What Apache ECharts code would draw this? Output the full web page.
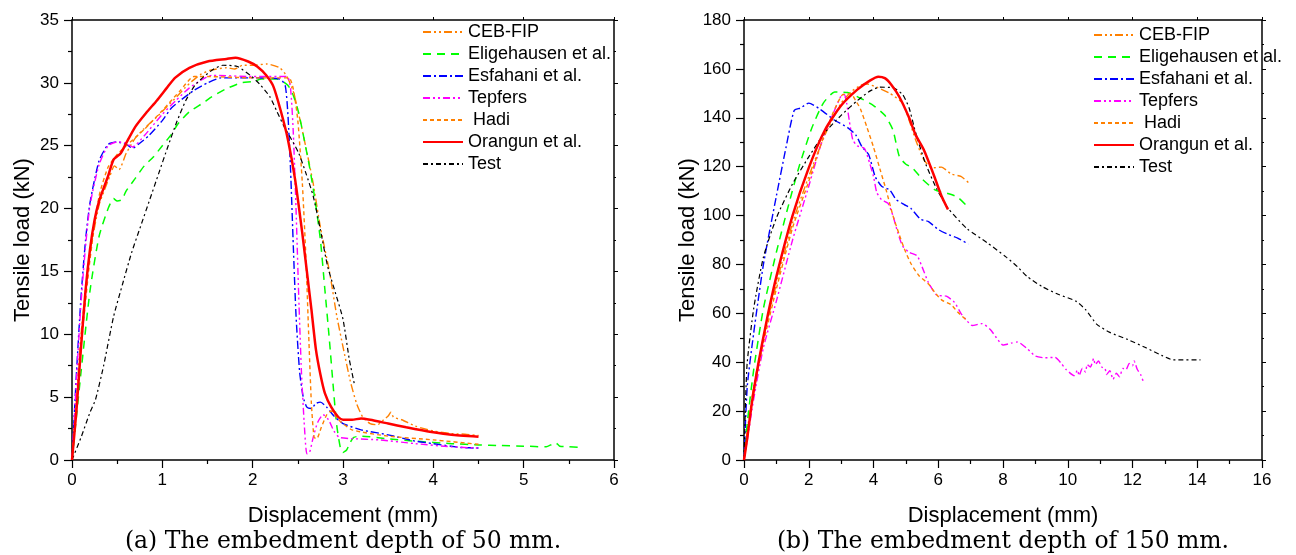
<!DOCTYPE html>
<html>
<head>
<meta charset="utf-8">
<script src="https://cdn.jsdelivr.net/npm/echarts@6/dist/echarts.min.js"></script>
<style>html,body{margin:0;padding:0;background:#fff;}#c{width:1296px;height:555px;}</style>
</head>
<body>
<div id="c"></div>
<script>
// ---------- names ----------
const seriesNames = ['CEB-FIP', 'Eligehausen et al.', 'Esfahani et al.', 'Tepfers', ' Hadi', 'Orangun et al.', 'Test'];
const xTicksA = [0, 6, 1];     // min, max, interval (embedment 50 mm)
const yTicksA = [0, 35, 5];
const xTicksB = [0, 16, 2];    // embedment 150 mm
const yTicksB = [0, 180, 20];
const xAxisName = 'Displacement (mm)';
const yAxisName = 'Tensile load (kN)';
const captionA = '(a) The embedment depth of 50 mm.';
const captionB = '(b) The embedment depth of 150 mm.';

// ---------- (a) 50 mm data [displacement, load] ----------
const aCEB = [[0,0],[0.05,5],[0.1,10],[0.2,16.5],[0.3,20.3],[0.35,21.3],[0.42,22.6],[0.47,23.4],[0.52,23.1],[0.6,24.4],[0.7,25.6],[0.79,26.3],[0.94,27.3],[1.05,28.1],[1.16,28.9],[1.25,29.6],[1.34,30.2],[1.43,30.7],[1.53,31.0],[1.71,31.2],[1.8,31.1],[1.89,31.4],[2.0,31.4],[2.16,31.5],[2.3,31.2],[2.38,30.5],[2.45,29.3],[2.52,27.2],[2.6,24.5],[2.67,22.0],[2.75,18.5],[2.85,15.0],[2.93,11.5],[3.0,9.0],[3.08,6.3],[3.15,4.5],[3.22,3.4],[3.3,2.9],[3.38,2.8],[3.45,3.2],[3.5,3.5],[3.53,3.8],[3.56,3.4],[3.65,3.2],[3.8,2.7],[4.0,2.3],[4.2,2.1],[4.35,2.05],[4.5,1.95]];
const aEli = [[0,0],[0.05,3.5],[0.1,7],[0.2,13.5],[0.3,17.8],[0.4,20.0],[0.46,20.8],[0.5,20.6],[0.55,20.7],[0.6,21.4],[0.7,22.4],[0.8,23.4],[0.9,24.1],[1.0,25.0],[1.1,25.9],[1.18,26.8],[1.3,27.7],[1.45,28.4],[1.55,28.9],[1.7,29.5],[1.87,30.0],[2.0,30.1],[2.1,30.3],[2.27,30.3],[2.39,29.8],[2.45,29.0],[2.51,27.6],[2.57,25.5],[2.63,23.3],[2.69,20.7],[2.75,17.5],[2.8,13.5],[2.85,9.5],[2.89,6.0],[2.93,2.8],[2.97,1.0],[3.0,0.6],[3.04,0.8],[3.08,1.4],[3.12,1.8],[3.2,1.9],[3.48,1.7],[3.8,1.5],[4.2,1.3],[4.5,1.2],[4.75,1.15],[5.0,1.1],[5.25,1.05],[5.3,1.2],[5.35,1.4],[5.4,1.1],[5.5,1.05],[5.61,1.0]];
const aEsf = [[0,0],[0.05,7],[0.1,13],[0.15,17.5],[0.2,20.5],[0.3,23.8],[0.4,25.1],[0.5,25.3],[0.6,25.1],[0.67,24.8],[0.75,25.2],[0.85,25.8],[1.0,27.0],[1.1,28.0],[1.2,28.6],[1.35,29.4],[1.5,30.0],[1.65,30.4],[2.0,30.4],[2.3,30.3],[2.36,29.8],[2.39,27.5],[2.42,23.0],[2.45,17.0],[2.48,11.5],[2.52,7.0],[2.56,5.0],[2.6,4.2],[2.65,4.1],[2.7,4.5],[2.75,4.6],[2.82,4.2],[2.9,3.5],[3.0,2.9],[3.2,2.4],[3.5,2.0],[3.8,1.5],[4.0,1.3],[4.3,1.0],[4.5,0.95]];
const aTep = [[0,0],[0.05,6.5],[0.1,12.5],[0.15,17],[0.2,20.3],[0.3,23.5],[0.4,25.0],[0.5,25.3],[0.6,25.2],[0.67,24.9],[0.8,25.8],[1.0,27.5],[1.15,28.6],[1.3,29.6],[1.45,30.3],[1.55,30.6],[2.0,30.5],[2.38,30.5],[2.42,29.5],[2.45,26.0],[2.48,20.0],[2.51,13.0],[2.54,7.0],[2.57,3.0],[2.6,0.5],[2.63,0.6],[2.67,1.8],[2.72,3.0],[2.78,3.6],[2.84,3.2],[2.9,2.3],[2.96,1.8],[3.1,1.7],[3.4,1.6],[3.8,1.3],[4.2,1.05],[4.5,0.95]];
const aHadi = [[0,0],[0.05,4.5],[0.1,9],[0.2,16],[0.3,21],[0.4,23.3],[0.5,24.3],[0.6,25.0],[0.8,26.3],[1.0,27.8],[1.2,29.4],[1.35,30.5],[1.5,30.5],[2.0,30.4],[2.4,30.4],[2.45,29.5],[2.5,27.0],[2.55,22.0],[2.59,16.0],[2.62,10.0],[2.65,4.5],[2.68,1.8],[2.71,1.7],[2.76,2.6],[2.82,3.6],[2.87,3.9],[2.95,3.2],[3.1,2.4],[3.5,1.9],[4.0,1.6],[4.5,1.25]];
const aOra = [[0,0],[0.05,4],[0.1,9],[0.15,13.5],[0.2,16.8],[0.25,19.1],[0.3,20.6],[0.4,22.6],[0.46,23.9],[0.54,24.4],[0.6,25.2],[0.7,26.5],[0.82,27.6],[0.94,28.6],[1.05,29.6],[1.14,30.4],[1.3,31.2],[1.5,31.7],[1.71,31.9],[1.81,32.0],[1.95,31.7],[2.05,31.3],[2.15,30.6],[2.23,29.7],[2.31,27.8],[2.39,25.5],[2.47,22.3],[2.55,18.0],[2.6,15.0],[2.65,12.0],[2.7,8.8],[2.75,6.8],[2.8,5.3],[2.87,4.2],[2.95,3.4],[3.0,3.2],[3.1,3.2],[3.2,3.3],[3.3,3.2],[3.5,2.9],[3.7,2.6],[4.0,2.2],[4.2,2.0],[4.5,1.85]];
const aTest = [[0,0],[0.1,1.8],[0.2,3.8],[0.26,4.8],[0.35,7.5],[0.46,11.4],[0.56,14.0],[0.66,16.5],[0.76,18.6],[0.86,20.7],[0.96,22.8],[1.06,24.9],[1.16,26.9],[1.26,28.6],[1.36,29.8],[1.46,30.5],[1.57,31.1],[1.67,31.4],[1.83,31.3],[1.99,30.5],[2.09,29.8],[2.19,28.9],[2.27,27.7],[2.35,26.5],[2.43,25.5],[2.51,24.4],[2.59,22.8],[2.67,21.0],[2.75,18.3],[2.83,15.4],[2.92,13.2],[3.0,11.2],[3.07,8.0],[3.13,5.9]];

// ---------- (b) 150 mm data [displacement, load] ----------
const bCEB = [[0,0],[0.1,12],[0.3,30],[0.6,50],[1.0,72],[1.5,97],[2.0,116],[2.5,133],[3.0,146],[3.3,150.5],[3.6,153.3],[3.8,153.8],[4.1,152.5],[4.5,150],[4.9,146],[5.1,139],[5.3,131],[5.55,123],[5.8,119.5],[6.1,119.8],[6.4,117],[6.7,116],[6.95,113.3]];
const bEli = [[0,0],[0.1,15],[0.3,37],[0.6,62],[1.0,85],[1.35,103],[1.7,120],[2.1,136],[2.45,146],[2.8,150.5],[3.2,150.3],[3.6,148],[4.0,145],[4.35,141],[4.6,135],[4.8,124],[5.0,121],[5.2,119.5],[5.5,115],[5.9,110.5],[6.3,109],[6.6,107.5],[6.95,103]];
const bEsf = [[0,0],[0.1,30],[0.3,52],[0.6,80],[1.0,108],[1.3,128],[1.55,143],[1.75,144],[2.0,146],[2.35,143.5],[2.8,139],[3.2,136],[3.45,133],[3.65,128],[3.85,125],[4.05,116],[4.25,112],[4.5,110.5],[4.7,106.5],[4.95,104.5],[5.15,103],[5.45,98.5],[5.7,97.5],[6.0,94.3],[6.3,92.3],[6.6,90.8],[6.93,88.3]];
const bTep = [[0,0],[0.1,8],[0.3,25],[0.6,46],[1.0,65],[1.5,90],[2.0,112],[2.4,130],[2.7,140],[3.0,149],[3.1,149.5],[3.17,146],[3.25,139],[3.36,131],[3.5,128.5],[3.72,127.5],[3.88,121.5],[4.0,116],[4.1,109.5],[4.25,106.5],[4.45,105],[4.6,100],[4.75,93],[4.9,87.5],[5.1,85],[5.35,83.5],[5.5,79],[5.7,72.5],[5.95,67.5],[6.25,67],[6.5,64.5],[6.7,60],[6.85,57.5],[7.05,55],[7.35,55.8],[7.6,53.5],[7.8,50],[8.0,47],[8.25,47.8],[8.45,48.3],[8.75,45.5],[9.0,42.5],[9.3,41.8],[9.6,42],[9.8,39.5],[9.95,37],[10.2,34.5],[10.3,36.8],[10.35,34.5],[10.45,37.5],[10.55,36],[10.6,39],[10.7,38],[10.8,41.5],[10.85,39],[10.95,40.5],[11.05,38],[11.15,37.5],[11.2,35],[11.3,36.5],[11.4,33],[11.5,35.5],[11.6,34],[11.7,37.5],[11.8,37],[11.9,39.5],[12.0,38.5],[12.05,40.5],[12.15,37],[12.25,35],[12.35,31.5]];
const bHadi = [[0,0],[0.1,10],[0.3,28],[0.6,48],[1.0,70],[1.5,95],[2.0,114],[2.4,130],[2.75,142],[3.05,149.5],[3.3,149.8],[3.45,147],[3.6,143.5],[3.8,136],[4.0,128],[4.2,119],[4.4,110],[4.6,100],[4.8,92],[4.95,86.5],[5.15,80.5],[5.4,75.5],[5.7,72],[5.9,68.5],[6.1,65.5],[6.4,63.5],[6.6,60.5],[6.85,57.5]];
const bOra = [[0,0],[0.1,9],[0.25,24],[0.45,40],[0.7,57],[1.0,75],[1.5,100],[2.0,119.5],[2.5,135],[3.0,145],[3.5,151.5],[3.9,155.3],[4.15,156.8],[4.35,156.2],[4.55,153.5],[4.8,148.5],[5.1,140],[5.3,133],[5.55,127],[5.85,117],[6.1,108],[6.3,102.5]];
const bTest = [[0,0],[0.05,25],[0.1,40],[0.3,62],[0.6,83],[1.0,99],[1.5,113],[2.0,124],[2.5,134],[3.0,141],[3.5,147],[3.9,151],[4.2,152.5],[4.6,152.3],[4.9,149.5],[5.1,144],[5.3,134],[5.6,121.5],[5.95,111],[6.3,103],[6.9,94.5],[7.5,89],[8.1,83],[8.45,79],[8.75,75],[9.2,71],[9.7,67.8],[10.25,65],[10.55,61.5],[10.9,55.5],[11.3,52.2],[11.85,49.3],[12.4,46],[12.9,42.8],[13.25,41],[14.1,41]];

// ---------- styles ----------
const styles = [
  {color:'#FF8000', width:1.4, type:[8,3,2,3,2,3]},
  {color:'#00FF00', width:1.5, type:[8,6]},
  {color:'#0000FF', width:1.4, type:[8,3,2,3]},
  {color:'#FF00FF', width:1.4, type:[7,3,2,3,2,3]},
  {color:'#FF8000', width:1.4, type:[4,3]},
  {color:'#FF0000', width:2.5, type:'solid'},
  {color:'#000000', width:1.2, type:[5,3,2,3]}
];
const dataA = [aCEB, aEli, aEsf, aTep, aHadi, aOra, aTest];
const dataB = [bCEB, bEli, bEsf, bTep, bHadi, bOra, bTest];

const FONT = 'Liberation Sans';
const tickFont = 17, nameFont = 22, legendFont = 18;

function mainX(grid, t) {
  return {type:'value', gridIndex:grid, min:t[0], max:t[1], interval:t[2], position:'bottom',
    name:xAxisName, nameLocation:'middle', nameGap:45,
    nameTextStyle:{fontFamily:FONT, fontSize:nameFont, color:'#000'},
    axisLine:{show:true, onZero:false, lineStyle:{color:'#000', width:1.5}},
    axisTick:{show:true, inside:false, length:8, lineStyle:{color:'#000', width:1.2}},
    minorTick:{show:true, splitNumber:2, length:4, lineStyle:{color:'#000', width:1.2}},
    axisLabel:{fontFamily:FONT, fontSize:tickFont, color:'#000', margin:12},
    splitLine:{show:false}};
}
function mirrorX(grid, t) {
  return {type:'value', gridIndex:grid, min:t[0], max:t[1], interval:t[2], position:'top',
    axisLine:{show:true, onZero:false, lineStyle:{color:'#000', width:1.5}},
    axisTick:{show:true, inside:false, length:3, lineStyle:{color:'#000', width:1}},
    minorTick:{show:false},
    axisLabel:{show:false}, splitLine:{show:false}};
}
function mainY(grid, t, gap) {
  return {type:'value', gridIndex:grid, min:t[0], max:t[1], interval:t[2], position:'left',
    name:yAxisName, nameLocation:'middle', nameGap:gap,
    nameTextStyle:{fontFamily:FONT, fontSize:nameFont, color:'#000'},
    axisLine:{show:true, onZero:false, lineStyle:{color:'#000', width:1.5}},
    axisTick:{show:true, inside:false, length:8, lineStyle:{color:'#000', width:1.2}},
    minorTick:{show:true, splitNumber:2, length:4, lineStyle:{color:'#000', width:1.2}},
    axisLabel:{fontFamily:FONT, fontSize:tickFont, color:'#000', margin:13},
    splitLine:{show:false}};
}
function mirrorY(grid, t) {
  return {type:'value', gridIndex:grid, min:t[0], max:t[1], interval:t[2], position:'right',
    axisLine:{show:true, onZero:false, lineStyle:{color:'#000', width:1.5}},
    axisTick:{show:true, inside:false, length:4, lineStyle:{color:'#000', width:1}},
    minorTick:{show:true, splitNumber:2, length:2, lineStyle:{color:'#000', width:1}},
    axisLabel:{show:false}, splitLine:{show:false}};
}

const series = [];
function addSeries(dataList, xi, yi) {
  dataList.forEach((d, i) => {
    const s = styles[i];
    series.push({type:'line', name:seriesNames[i], xAxisIndex:xi, yAxisIndex:yi, data:d,
      symbol:'none', showSymbol:false, smooth:0.2, animation:false,
      lineStyle:{color:s.color, width:s.width, type:s.type}, itemStyle:{color:s.color},
      z: i === 5 ? 5 : 3});
  });
}
addSeries(dataA, 0, 0);
addSeries(dataB, 2, 2);

function legend(left, top) {
  return {show:true, orient:'vertical', left:left, top:top, padding:0, itemGap:4,
    itemWidth:40, itemHeight:14, data:seriesNames, selectedMode:false,
    itemStyle:{opacity:0},
    textStyle:{fontFamily:FONT, fontSize:legendFont, color:'#000'}};
}

const option = {
  animation:false,
  backgroundColor:'#fff',
  grid:[
    {left:72, top:20, width:542, height:440},
    {left:744, top:20, width:518, height:440}
  ],
  xAxis:[mainX(0, xTicksA), mirrorX(0, xTicksA), mainX(1, xTicksB), mirrorX(1, xTicksB)],
  yAxis:[mainY(0, yTicksA, 38), mirrorY(0, yTicksA), mainY(1, yTicksB, 44), mirrorY(1, yTicksB)],
  legend:[legend(422, 23), legend(1093, 26)],
  series:series,
  graphic:[
    {type:'text', x:343, y:542, style:{text:captionA, font:'23.5px "DejaVu Serif"', fill:'#000', textAlign:'center', textVerticalAlign:'middle'}},
    {type:'text', x:1003, y:542, style:{text:captionB, font:'23.5px "DejaVu Serif"', fill:'#000', textAlign:'center', textVerticalAlign:'middle'}}
  ]
};
const chart = echarts.init(document.getElementById('c'), null, {renderer:'canvas'});
chart.setOption(option);
</script>
</body>
</html>
